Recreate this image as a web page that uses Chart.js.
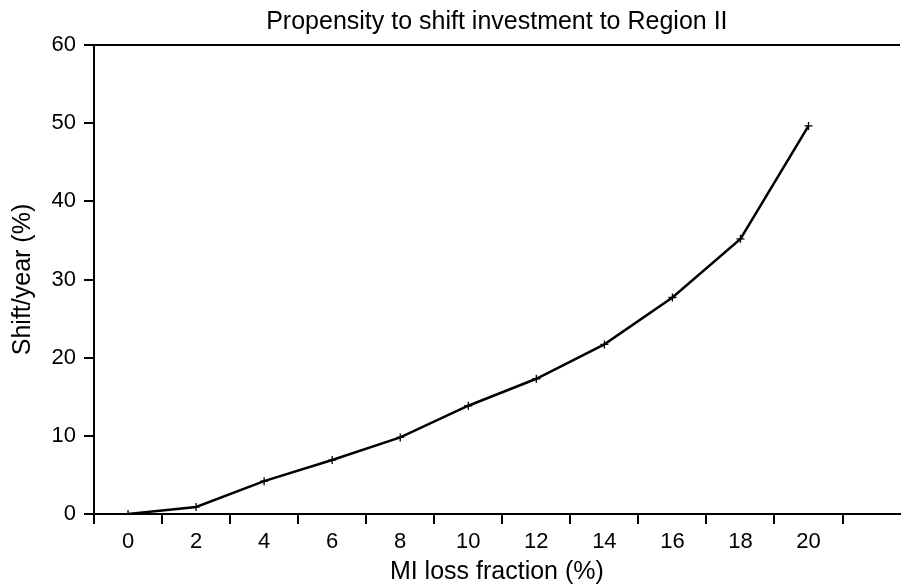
<!DOCTYPE html>
<html>
<head>
<meta charset="utf-8">
<script src="https://cdn.jsdelivr.net/npm/chart.js@4"></script>
<style>
  html, body { margin:0; padding:0; background:#fff; }
  #wrap { width:905px; height:585px; }
</style>
</head>
<body>
<div id="wrap"><canvas id="chart"></canvas></div>
<script>
// data
const lossFraction = [0, 2, 4, 6, 8, 10, 12, 14, 16, 18, 20];
const shiftPerYear = [0, 0.9, 4.2, 6.9, 9.8, 13.85, 17.3, 21.7, 27.7, 35.2, 49.65];
const yTicks = [0, 10, 20, 30, 40, 50, 60];

const chartTitle = 'Propensity to shift investment to Region II';
const xTitle = 'MI loss fraction (%)';
const yTitle = 'Shift/year (%)';

const family = '"Liberation Sans", Arial, sans-serif';
const tickFont = { family, size:22 };
const titleFont = { family, size:25, lineHeight:1 };
const X_MIN = -1, X_MAX = 22.68;

const isOdd = v => Number.isInteger(v) && Math.abs(v % 2) === 1;

new Chart(document.getElementById('chart').getContext('2d'), {
  type:'line',
  data:{ datasets:[{
    data: lossFraction.map((x, i) => ({ x, y: shiftPerYear[i] })),
    borderColor:'#000', borderWidth:2.5, tension:0,
    pointStyle:'cross', pointRadius:4, pointBorderWidth:1.3,
    pointBorderColor:'#000', pointBackgroundColor:'#000'
  }]},
  options:{
    responsive:true, maintainAspectRatio:false, animation:false,
    layout:{ padding:{ left:0, right:0, top:0, bottom:0 } },
    plugins:{ legend:{ display:false }, tooltip:{ enabled:false }, title:{ display:false } },
    scales:{
      x:{
        type:'linear', position:'bottom', min:X_MIN, max:X_MAX,
        afterFit: s => { s.height = 71; },
        ticks:{ stepSize:1, includeBounds:false, autoSkip:false, maxRotation:0, padding:5,
          color:'#000', font:tickFont,
          callback: v => (v % 2 === 0 && v >= 0 && v <= 20) ? String(v) : '' },
        grid:{ drawOnChartArea:false, drawTicks:true, tickLength:10, lineWidth:2,
          color: c => (c.tick && isOdd(c.tick.value)) ? '#000' : 'rgba(0,0,0,0)' },
        border:{ display:true, color:'#000', width:2 },
        title:{ display:true, text:xTitle, color:'#000', font:titleFont, padding:{ top:0, bottom:0 } }
      },
      x2:{
        type:'linear', position:'top', min:X_MIN, max:X_MAX,
        afterFit: s => { s.height = 45; },
        ticks:{ display:false },
        grid:{ display:false, drawTicks:false },
        border:{ display:true, color:'#000', width:2 },
        title:{ display:true, text:chartTitle, color:'#000', font:titleFont, padding:{ top:9.5, bottom:0 } }
      },
      y:{
        type:'linear', position:'left', min:0, max:60,
        afterFit: s => { s.width = 94; },
        afterBuildTicks: s => { s.ticks = yTicks.map(v => ({ value:v })); },
        ticks:{ padding:8, color:'#000', font:tickFont },
        grid:{ drawOnChartArea:false, drawTicks:true, tickLength:10, lineWidth:2, color:'#000' },
        border:{ display:true, color:'#000', width:2 },
        title:{ display:true, text:yTitle, color:'#000', font:titleFont, padding:{ top:10.5, bottom:0 } }
      }
    }
  }
});
</script>
</body>
</html>
